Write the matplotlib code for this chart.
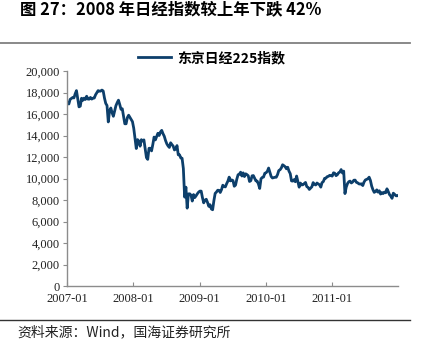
import numpy as np
import pandas as pd
import matplotlib.pyplot as plt
import matplotlib.dates as mdates
from matplotlib.ticker import FuncFormatter

plt.rcParams['font.family'] = ['Noto Sans CJK SC', 'DejaVu Sans']

# 东京日经225指数, 周收盘
v2007 = [17091, 16942, 17370, 17458,
         17547, 17504, 17897, 18188,
         17453, 16676, 16744, 17480, 17287,
         17490, 17363, 17667, 17400,
         17394, 17553, 17399, 17481,
         17500, 17800, 18001, 18188, 18138,
         18140, 18238, 18157, 17500,
         17000, 16800, 15273, 16300, 16569,
         16122, 15800, 16300, 16785,
         17065, 17300, 16900, 16450,
         16500, 15800, 15100, 15100, 15680,
         15900, 15700, 15500, 15300]
v2008 = [14691, 13764, 12800, 13629,
         13497, 13017, 13622, 13500, 13603,
         12782, 11950, 11787, 12820,
         12826, 12581, 13177, 13863,
         13600, 13900, 14219, 14012, 14338,
         14489, 14181, 13942, 13544,
         13237, 13039, 12900, 13334,
         13168, 13020, 12666, 12755, 13072,
         12212, 12214, 11920, 11893,
         10938, 8276, 9203, 7250, 8577,
         8583, 8462, 7911, 8512,
         8235, 8400, 8588, 8740]
v2009 = [8836, 8836, 8230, 7745, 7994,
         8076, 7779, 7416, 7568,
         7173, 7100, 7945, 8626,
         8749, 8916, 8908, 8707,
         8977, 9385, 9265, 9225, 9523,
         9768, 10135, 9786, 9877,
         9816, 9287, 9395, 9945, 10357,
         10412, 10598, 10238, 10534,
         10187, 10444, 10370, 10265,
         9731, 9800, 10257, 10282, 10034,
         9789, 9770, 9497, 9081,
         9977, 10107, 10142, 10494]
v2010 = [10546, 10682, 10982, 10590, 10198,
         10057, 10092, 10123, 10126,
         10368, 10751, 10824, 10996,
         11286, 11204, 11102, 10914, 11057,
         10695, 10462, 9784, 9768,
         9901, 9705, 10238, 9737,
         9203, 9585, 9408, 9431, 9537,
         9642, 9253, 9179, 8991,
         9114, 9239, 9626, 9471,
         9404, 9588, 9500, 9426, 9202,
         9625, 9724, 10022, 10039,
         10178, 10212, 10303, 10279, 10229]
v2011 = [10541, 10499, 10274, 10360,
         10543, 10605, 10842, 10526,
         10694, 8605, 9206, 9536,
         9708, 9768, 9591, 9682, 9849,
         9859, 9648, 9607, 9504,
         9492, 9514, 9351, 9678,
         9868, 9929, 9974, 10132, 9833,
         9299, 8963, 8719, 8797,
         8950, 8737, 8864, 8560, 8700,
         8605, 8747, 8678, 9050,
         8801, 8514, 8374, 8160,
         8643, 8536, 8401, 8395, 8455]

nikkei = v2007 + v2008 + v2009 + v2010 + v2011
dates = pd.date_range('2007-01-05', periods=len(nikkei), freq='W-FRI')

yticks = np.arange(0, 20001, 2000)
xticks = pd.to_datetime(['2007-01-01', '2008-01-01', '2009-01-01', '2010-01-01', '2011-01-01'])

fig = plt.figure(figsize=(4.23, 3.54), dpi=100)
ax = fig.add_axes([0.158, 0.192, 0.783, 0.607])

ax.plot(dates, nikkei, color='#0d3f6b', lw=2.0, label='东京日经225指数')

ax.set_ylim(0, 20000)
ax.set_xlim(pd.Timestamp('2007-01-01'), pd.Timestamp('2011-12-28'))
ax.set_yticks(yticks)
ax.yaxis.set_major_formatter(FuncFormatter(lambda v, p: f'{int(v):,}'))
ax.set_xticks(xticks)
ax.xaxis.set_major_formatter(mdates.DateFormatter('%Y-%m'))

for s in ['top', 'right']:
    ax.spines[s].set_visible(False)
for s in ['left', 'bottom']:
    ax.spines[s].set_color('#8c8c8c')
    ax.spines[s].set_linewidth(1.0)
ax.tick_params(axis='y', direction='out', length=3, color='#8c8c8c', pad=2)
ax.tick_params(axis='x', direction='in', length=3, color='#8c8c8c', pad=5)
for lab in ax.get_xticklabels() + ax.get_yticklabels():
    lab.set_fontfamily('Liberation Serif')
    lab.set_fontsize(9)
    lab.set_color('#222222')

leg = fig.legend(loc='center', bbox_to_anchor=(0.50, 0.836), frameon=False,
                 handlelength=2.4, handletextpad=0.4,
                 prop={'family': ['Noto Sans CJK SC'], 'weight': 'bold', 'size': 10})

fig.text(0.047, 0.998, '图 27：2008 年日经指数较上年下跌 42%', ha='left', va='top',
         fontsize=11.8, fontweight='bold', family=['Noto Sans CJK SC', 'DejaVu Sans'])
fig.add_artist(plt.Line2D([0, 0.97], [0.878, 0.878], color='#808080', lw=1.3))
fig.add_artist(plt.Line2D([0, 0.97], [0.096, 0.096], color='#333333', lw=1.0))
fig.text(0.04, 0.062, '资料来源：Wind，国海证券研究所', ha='left', va='center',
         fontsize=10, color='#222222')

fig.savefig('out.png', dpi=100)
